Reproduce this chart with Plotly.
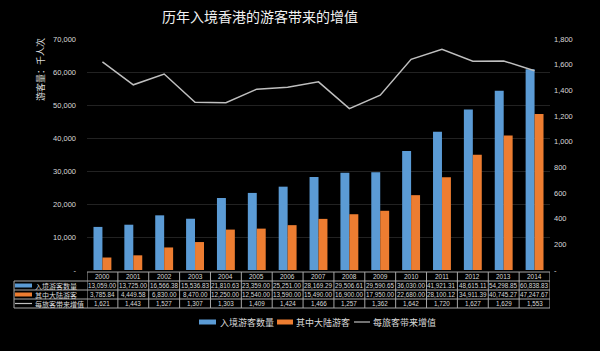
import plotly.graph_objects as go

# ---------------- data ----------------
years = ["2000", "2001", "2002", "2003", "2004", "2005", "2006", "2007",
         "2008", "2009", "2010", "2011", "2012", "2013", "2014"]
visitors = [13059.00, 13725.00, 16566.38, 15536.83, 21810.63, 23359.00, 25251.00, 28169.29,
            29506.61, 29590.65, 36030.00, 41921.31, 48615.11, 54298.85, 60838.83]
mainland = [3785.84, 4449.58, 6830.00, 8470.00, 12250.00, 12540.00, 13590.00, 15490.00,
            16900.00, 17950.00, 22680.00, 28100.12, 34911.39, 40745.27, 47247.67]
value_added = [1621, 1443, 1527, 1307, 1303, 1409, 1424, 1466,
               1257, 1362, 1642, 1720, 1627, 1629, 1553]
series_names = ["入境游客数量", "其中大陆游客", "每旅客带来增值"]
left_tickvals = [0, 10000, 20000, 30000, 40000, 50000, 60000, 70000]
left_ticktext = ["-", "10,000", "20,000", "30,000", "40,000", "50,000", "60,000", "70,000"]
right_tickvals = [0, 200, 400, 600, 800, 1000, 1200, 1400, 1600, 1800]
right_ticktext = ["-", "200", "400", "600", "800", "1,000", "1,200", "1,400", "1,600", "1,800"]
title_text = "历年入境香港的游客带来的增值"
yaxis_title = "游客量：千人次"

# ---------------- styling / layout ----------------
BLUE = "#5B9BD5"
ORANGE = "#ED7D31"
LINE = "#bfbfbf"
TXT = "#d9d9d9"
GRID = "#222222"
TABLE_LINE = "#a6a6a6"
CJK = "Noto Sans CJK SC"
NUM = "Liberation Sans"

W, H = 600, 351
L, R, T, B = 87, 50, 39, 81
PW, PH = W - L - R, H - T - B


def py(pix):
    return (H - B - pix) / PH


def px(pix):
    return (pix - L) / PW


fig = go.Figure()
fig.add_trace(go.Bar(x=years, y=visitors, name=series_names[0], marker_color=BLUE,
                     marker_line_width=0, showlegend=False))
fig.add_trace(go.Bar(x=years, y=mainland, name=series_names[1], marker_color=ORANGE,
                     marker_line_width=0, showlegend=False))
fig.add_trace(go.Scatter(x=years, y=value_added, name=series_names[2], mode="lines",
                         line=dict(color=LINE, width=1.5), yaxis="y2", showlegend=False))

shapes = []
annotations = []

# ---- data table below the plot ----
row_tops = [272, 281, 290, 299, 308]
row_centers = [(row_tops[i] + row_tops[i + 1]) / 2 for i in range(4)]
line_style = dict(color=TABLE_LINE, width=1)

# horizontal lines
shapes.append(dict(type="line", xref="paper", yref="paper", x0=0, x1=1,
                   y0=py(row_tops[0]), y1=py(row_tops[0]), line=line_style))
for yt in row_tops[1:]:
    shapes.append(dict(type="line", xref="paper", yref="paper", x0=px(14), x1=1,
                       y0=py(yt), y1=py(yt), line=line_style))
# vertical lines
for i in range(len(years) + 1):
    shapes.append(dict(type="line", xref="x", yref="paper", x0=i - 0.5, x1=i - 0.5,
                       y0=py(row_tops[0]), y1=py(row_tops[-1]), line=line_style))
shapes.append(dict(type="line", xref="paper", yref="paper", x0=px(14), x1=px(14),
                   y0=py(row_tops[1]), y1=py(row_tops[-1]), line=line_style))

# header + values
rows = [
    [f"{v:,.2f}" for v in visitors],
    [f"{v:,.2f}" for v in mainland],
    [f"{v:,.0f}" for v in value_added],
]
for i, yr in enumerate(years):
    annotations.append(dict(x=i, y=py(row_centers[0]), xref="x", yref="paper", text=yr,
                            showarrow=False, font=dict(family=NUM, size=6.5, color=TXT),
                            xanchor="center", yanchor="middle"))
    for r in range(3):
        annotations.append(dict(x=i, y=py(row_centers[r + 1]), xref="x", yref="paper",
                                text=rows[r][i], showarrow=False,
                                font=dict(family=NUM, size=6.3, color=TXT),
                                xanchor="center", yanchor="middle"))

# row labels with keys
for r, (nm, col) in enumerate(zip(series_names, [BLUE, ORANGE, LINE])):
    yc = row_centers[r + 1]
    if r < 2:
        shapes.append(dict(type="rect", xref="paper", yref="paper", x0=px(15), x1=px(32),
                           y0=py(yc + 2), y1=py(yc - 2), fillcolor=col, line=dict(width=0)))
    else:
        shapes.append(dict(type="line", xref="paper", yref="paper", x0=px(15), x1=px(32),
                           y0=py(yc), y1=py(yc), line=dict(color=col, width=1.2)))
    annotations.append(dict(x=px(33), y=py(yc), xref="paper", yref="paper", text=nm,
                            showarrow=False, font=dict(family=CJK, size=7, color=TXT),
                            xanchor="left", yanchor="middle"))

# ---- legend (bottom) ----
LEG_Y = 322
legend_items = [(199, 216, 218), (277, 293, 294), (354, 370, 371)]
for (x0, x1, xt), nm, col, kind in zip(legend_items, series_names, [BLUE, ORANGE, LINE],
                                       ["rect", "rect", "line"]):
    if kind == "rect":
        shapes.append(dict(type="rect", xref="paper", yref="paper", x0=px(x0), x1=px(x1),
                           y0=py(LEG_Y + 2.5), y1=py(LEG_Y - 2.5), fillcolor=col,
                           line=dict(width=0)))
    else:
        shapes.append(dict(type="line", xref="paper", yref="paper", x0=px(x0), x1=px(x1),
                           y0=py(LEG_Y), y1=py(LEG_Y), line=dict(color=col, width=1.2)))
    annotations.append(dict(x=px(xt), y=py(LEG_Y), xref="paper", yref="paper", text=nm,
                            showarrow=False, font=dict(family=CJK, size=9, color=TXT),
                            xanchor="left", yanchor="middle"))

# y axis title
annotations.append(dict(x=px(40), y=py(70), xref="paper", yref="paper", text=yaxis_title,
                        textangle=-90, showarrow=False,
                        font=dict(family=CJK, size=9, color=TXT),
                        xanchor="center", yanchor="middle"))

fig.update_layout(
    width=W, height=H,
    margin=dict(l=L, r=R, t=T, b=B, pad=0),
    paper_bgcolor="#000000", plot_bgcolor="#000000",
    barmode="group", bargap=0.42, bargroupgap=0,
    title=dict(text=title_text, x=260 / W, xanchor="center", y=1 - 17 / H, yanchor="middle",
               xref="container", yref="container",
               font=dict(family=CJK, size=14, color="#f2f2f2")),
    xaxis=dict(type="category", range=[-0.5, len(years) - 0.5], showticklabels=False,
               showgrid=False, zeroline=False, showline=False, ticks=""),
    yaxis=dict(range=[0, 70000], tickvals=left_tickvals, ticktext=left_ticktext,
               showgrid=True, gridcolor=GRID, gridwidth=1, zeroline=False, showline=False,
               ticks="", ticklabelstandoff=10,
               tickfont=dict(family=NUM, size=7.5, color=TXT)),
    yaxis2=dict(range=[0, 1800], tickvals=right_tickvals, ticktext=right_ticktext,
                overlaying="y", side="right", showgrid=False, zeroline=False, showline=False,
                ticks="", ticklabelstandoff=3,
                tickfont=dict(family=NUM, size=7.5, color=TXT)),
    shapes=shapes,
    annotations=annotations,
    showlegend=False,
)

fig.write_html("out.html")
